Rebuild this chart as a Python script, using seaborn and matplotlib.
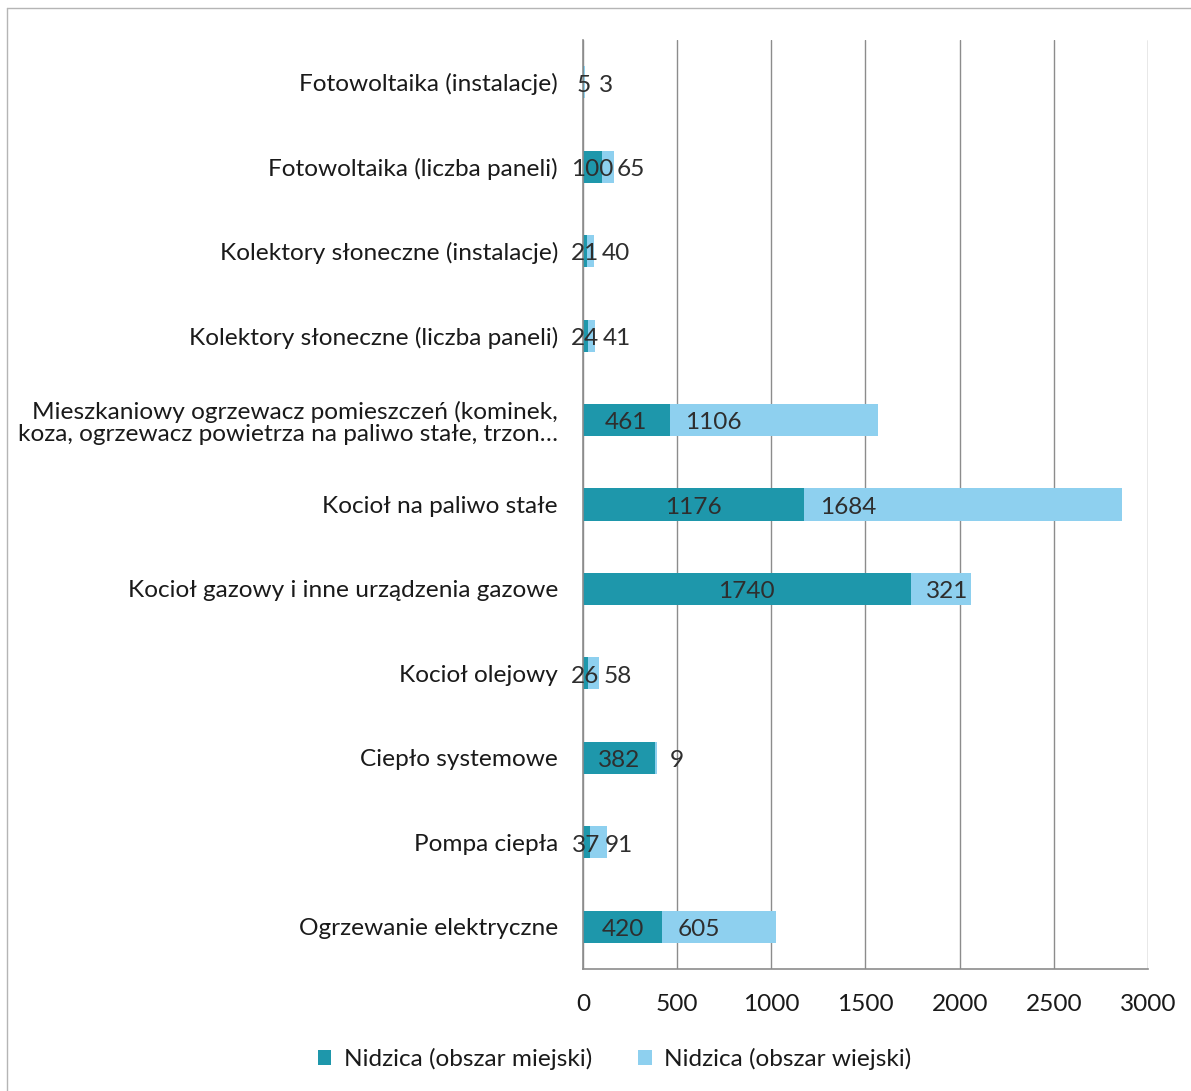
import matplotlib
matplotlib.use("Agg")
import matplotlib.pyplot as plt
from matplotlib.lines import Line2D
from matplotlib.patches import Patch
from matplotlib.ticker import FixedLocator
import seaborn as sns
import pandas as pd

categories = [
    "Fotowoltaika (instalacje)",
    "Fotowoltaika (liczba paneli)",
    "Kolektory słoneczne (instalacje)",
    "Kolektory słoneczne (liczba paneli)",
    "Mieszkaniowy ogrzewacz pomieszczeń (kominek,\nkoza, ogrzewacz powietrza na paliwo stałe, trzon…",
    "Kocioł na paliwo stałe",
    "Kocioł gazowy i inne urządzenia gazowe",
    "Kocioł olejowy",
    "Ciepło systemowe",
    "Pompa ciepła",
    "Ogrzewanie elektryczne",
]
urban = [5, 100, 21, 24, 461, 1176, 1740, 26, 382, 37, 420]
rural = [3, 65, 40, 41, 1106, 1684, 321, 58, 9, 91, 605]
series_names = ["Nidzica (obszar miejski)", "Nidzica (obszar wiejski)"]
x_ticks = [0, 500, 1000, 1500, 2000, 2500, 3000]

URBAN_COLOR = "#1e97ab"
RURAL_COLOR = "#8ed0ef"
TEXT_COLOR = "#1a1a1a"
VALUE_COLOR = "#2e2e2e"
GRID_COLOR = "#8c8c8c"
FS = 17.6

sns.set_theme(style="white")
plt.rcParams["font.family"] = ["Lato", "DejaVu Sans"]

df = pd.DataFrame({
    "category": categories,
    "urban": urban,
    "rural": rural,
})
df["total"] = df["urban"] + df["rural"]

fig = plt.figure(figsize=(11.91, 10.91), dpi=100)
ax = fig.add_axes([0.4895, 0.1118, 0.4744, 0.8515])

# stacked bars: full total in the rural colour, urban part drawn over it
sns.barplot(data=df, y="category", x="total", color=RURAL_COLOR, width=0.38,
            saturation=1, orient="h", linewidth=0, ax=ax)
sns.barplot(data=df, y="category", x="urban", color=URBAN_COLOR, width=0.38,
            saturation=1, orient="h", linewidth=0, ax=ax)

ax.set_xlim(0, 3000)
ax.set_ylim(len(categories) - 0.5, -0.5)
ax.set_xlabel("")
ax.set_ylabel("")

ax.set_xticks(x_ticks)
ax.set_xticklabels([str(t) for t in x_ticks], fontsize=FS, color=TEXT_COLOR)
ax.tick_params(axis="x", direction="out", length=6, width=1, color=GRID_COLOR, pad=12)
ax.tick_params(axis="y", which="major", length=0, pad=18, labelsize=FS, labelcolor=TEXT_COLOR)
ax.yaxis.set_minor_locator(FixedLocator([i + 0.5 for i in range(-1, len(categories))]))
ax.tick_params(axis="y", which="minor", direction="out", length=8, width=1, color=GRID_COLOR)
for lbl in ax.get_yticklabels():
    lbl.set_horizontalalignment("right")
    lbl.set_multialignment("right")
    lbl.set_linespacing(1.1)

ax.grid(axis="x", color=GRID_COLOR, linewidth=1)
ax.set_axisbelow(True)
for side in ["top", "right"]:
    ax.spines[side].set_visible(False)
for side in ["left", "bottom"]:
    ax.spines[side].set_color(GRID_COLOR)
    ax.spines[side].set_linewidth(1.2)

# value labels
for i, (u, r) in enumerate(zip(urban, rural)):
    ax.annotate(str(u), xy=(u / 2, i), xytext=(0, -2), textcoords="offset points",
                ha="center", va="center", fontsize=FS, color=VALUE_COLOR)
    ax.annotate(str(r), xy=(u, i), xytext=(11, -2), textcoords="offset points",
                ha="left", va="center", fontsize=FS, color=VALUE_COLOR)

handles = [Patch(facecolor=URBAN_COLOR, edgecolor="none"),
           Patch(facecolor=RURAL_COLOR, edgecolor="none")]
fig.legend(handles, series_names, loc="center", bbox_to_anchor=(0.516, 0.029),
           ncol=2, frameon=False, fontsize=FS, handlelength=0.55, handleheight=0.55,
           handletextpad=0.5, columnspacing=1.9, labelcolor=TEXT_COLOR)

# outer chart frame
fig.add_artist(Line2D([7 / 1191, 1.0], [1 - 8 / 1091, 1 - 8 / 1091],
                      transform=fig.transFigure, color="#b5b5b5", linewidth=1))
fig.add_artist(Line2D([7 / 1191, 7 / 1191], [0.0, 1 - 8 / 1091],
                      transform=fig.transFigure, color="#b5b5b5", linewidth=1))

fig.savefig("out.png", dpi=100, facecolor="white")
